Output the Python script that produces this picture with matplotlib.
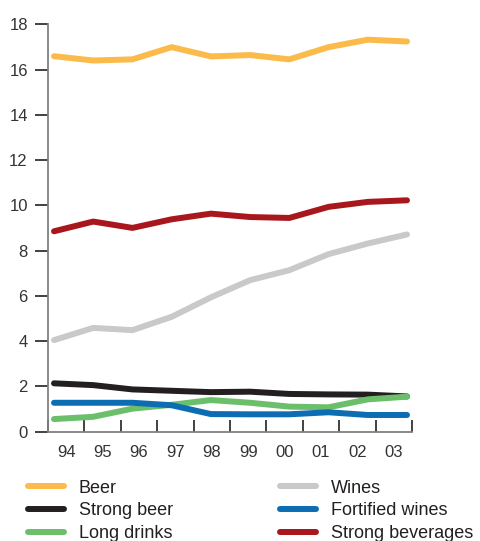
import matplotlib
matplotlib.use("Agg")
import matplotlib.pyplot as plt

plt.rcParams['font.family'] = ['Liberation Sans', 'DejaVu Sans']

years = ["94", "95", "96", "97", "98", "99", "00", "01", "02", "03"]

beer = [16.59, 16.40, 16.45, 16.99, 16.58, 16.64, 16.45, 16.99, 17.32, 17.24]
strong_beer = [2.13, 2.05, 1.86, 1.80, 1.74, 1.76, 1.66, 1.64, 1.63, 1.55]
long_drinks = [0.55, 0.65, 1.01, 1.18, 1.39, 1.27, 1.10, 1.07, 1.42, 1.54]
wines = [4.04, 4.58, 4.48, 5.07, 5.93, 6.69, 7.13, 7.84, 8.31, 8.71]
fortified_wines = [1.27, 1.27, 1.27, 1.16, 0.77, 0.76, 0.76, 0.85, 0.73, 0.73]
strong_beverages = [8.85, 9.28, 9.00, 9.38, 9.63, 9.48, 9.44, 9.93, 10.15, 10.22]

series = [
    ("Beer", beer, "#FBBB4B"),
    ("Strong beer", strong_beer, "#231F20"),
    ("Long drinks", long_drinks, "#6BBF6B"),
    ("Wines", wines, "#C9C9C9"),
    ("Fortified wines", fortified_wines, "#0C6DB3"),
    ("Strong beverages", strong_beverages, "#A8171C"),
]

W, H = 480, 541
fig = plt.figure(figsize=(W / 100, H / 100), dpi=100)
rect = [48 / W, (H - 431.5) / H, 364 / W, 407.2 / H]

# category axis carrying the year ticks and labels
cat_ax = fig.add_axes(rect)
cat_ax.set_xlim(0, len(years))
cat_ax.set_ylim(0, 1)
for s in ("top", "right", "left"):
    cat_ax.spines[s].set_visible(False)
cat_ax.spines["bottom"].set_color("#808080")
cat_ax.spines["bottom"].set_linewidth(1.3)
cat_ax.set_yticks([])
cat_ax.set_xticks(range(len(years) + 1))
cat_ax.set_xticklabels([])
cat_ax.tick_params(axis="x", which="major", direction="in", length=9,
                   width=1.3, color="#333333")
cat_ax.set_xticks([i + 0.5 for i in range(len(years))], minor=True)
cat_ax.set_xticklabels(years, minor=True)
cat_ax.tick_params(axis="x", which="minor", length=0, pad=10,
                   labelsize=12, labelcolor="#333333")

# data axis
ax = fig.add_axes(rect)
ax.patch.set_alpha(0)
n = len(years)
x = list(range(n))
step_px = 353 / (n - 1)
ax.set_xlim(-6 / step_px, (n - 1) + 5 / step_px)
ax.set_ylim(0, 18)
for s in ("top", "right", "bottom"):
    ax.spines[s].set_visible(False)
ax.spines["left"].set_color("#808080")
ax.spines["left"].set_linewidth(1.3)
ax.set_xticks([])
ax.set_yticks(range(0, 19, 2))
ax.tick_params(axis="y", direction="out", length=9.5, width=1.3,
               color="#333333", pad=5, labelsize=12, labelcolor="#333333")

for label, vals, color in series:
    ax.plot(x, vals, color=color, lw=4.3, solid_capstyle="round",
            solid_joinstyle="round", label=label)

leg = ax.legend(loc="upper left", bbox_to_anchor=(-20 / 364, -0.118),
                ncol=2, frameon=False, fontsize=13, handlelength=2.0,
                handletextpad=0.8, columnspacing=5.95, labelspacing=0.32,
                borderaxespad=0, borderpad=0)
for t in leg.get_texts():
    t.set_color("#231F20")

fig.savefig("out.png", dpi=100)
